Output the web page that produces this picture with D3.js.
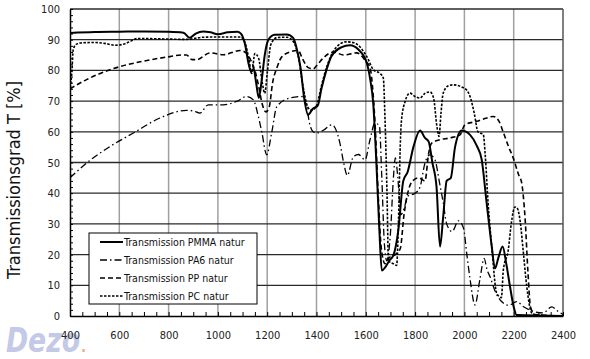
<!DOCTYPE html>
<meta charset="utf-8">
<style>
body { margin: 0; background: #fff; }
text { font-family: "DejaVu Sans Condensed", "DejaVu Sans", sans-serif; }
</style>
<body>
<script src="https://d3js.org/d3.v7.min.js"></script>
<script>

// wavelength [nm], transmission [%]
var pmma = [[400,92.2],[500,92.5],[600,92.6],[700,92.7],[800,92.6],[860,92.3],[885,90.6],[910,92],[940,92.7],[970,92.4],[1000,91.8],[1040,92.4],[1080,92.6],[1095,91.8],[1110,88.5],[1125,82],[1135,79.5],[1145,80.5],[1155,76],[1166,71],[1178,77],[1190,85],[1205,90],[1230,91.6],[1280,91.7],[1306,90.5],[1320,87],[1335,81],[1350,71],[1366,65.5],[1385,67.5],[1405,68.5],[1420,74],[1440,80],[1460,84.5],[1500,87.5],[1536,88.2],[1570,86.8],[1604,82.4],[1618,77],[1630,69.4],[1644,48],[1655,28],[1665,14.8],[1680,16],[1695,18],[1712,19.8],[1732,28],[1752,44],[1770,47],[1793,55],[1820,60.4],[1840,58],[1855,56.8],[1870,50],[1887,42],[1901,22.6],[1914,32.4],[1928,44],[1945,45],[1962,55],[1989,60.4],[2023,59],[2050,55.5],[2070,51],[2090,37],[2111,22.6],[2124,15.5],[2138,19],[2155,22.6],[2170,17],[2185,9.6],[2200,3],[2212,0.3],[2400,0]];

var pa6 = [[400,45],[467,49.8],[562,55.2],[657,59.6],[765,64.5],[873,67],[900,66.8],[927,66.1],[961,68.8],[1022,68.8],[1076,69.9],[1117,71.5],[1144,70.4],[1164,65],[1178,60],[1198,52.5],[1218,59.6],[1239,68.2],[1292,71],[1346,71.5],[1360,68],[1374,62],[1387,60],[1401,59.6],[1428,60.5],[1462,62.3],[1495,56.3],[1510,50],[1525,45.8],[1549,51.8],[1570,52.6],[1597,50.9],[1617,57.4],[1637,62.8],[1655,62],[1665,45],[1675,24],[1685,18],[1700,27],[1712,45],[1720,51.5],[1730,45],[1742,33],[1755,35],[1770,39],[1800,40],[1820,42],[1840,49.8],[1860,52.5],[1880,51],[1900,43],[1914,37],[1928,30],[1950,27.5],[1976,31],[1996,28.7],[2010,20],[2023,12],[2043,3.6],[2063,12],[2080,18.8],[2092,15],[2104,12.8],[2125,8],[2151,4.7],[2180,3.5],[2212,4.7],[2240,3],[2280,1.5],[2320,1],[2354,3],[2380,1.5],[2400,0.5]];

var pp = [[400,74],[467,77],[562,80.2],[697,83],[806,84.5],[850,85],[873,85],[895,83.5],[914,83.5],[968,85.7],[1022,85.1],[1090,86.5],[1117,85.5],[1135,83],[1150,80],[1165,75],[1180,69],[1195,66.5],[1208,68],[1222,76],[1240,81],[1260,84.5],[1300,86.2],[1325,86.5],[1345,83.5],[1365,81],[1386,80.5],[1405,82],[1427,84],[1470,86],[1509,85],[1563,85.7],[1600,83],[1617,81],[1630,72],[1638,62],[1650,40],[1663,22],[1678,17],[1695,19],[1720,20],[1740,22],[1755,33],[1770,40],[1790,44],[1815,45],[1840,44],[1855,53],[1867,56.3],[1900,57.4],[1940,58],[1982,59],[2002,62.3],[2050,63.4],[2090,64.5],[2117,65],[2140,63.5],[2157,60],[2180,55],[2198,51.5],[2220,46],[2232,43.5],[2246,32],[2258,14],[2268,3],[2285,0.5],[2400,0]];

var pc = [[400,73],[408,80],[413,86.7],[425,88.5],[441,88.9],[494,89.1],[540,88.8],[583,88.2],[620,88.6],[643,89.4],[676,90.4],[750,90.3],[806,90.2],[873,90.1],[940,90.8],[1008,90.9],[1091,90.9],[1110,89],[1125,84],[1137,79],[1150,85.5],[1165,84],[1180,76],[1190,72.5],[1200,79],[1215,88.5],[1240,90.7],[1280,90.8],[1305,89.5],[1325,85],[1345,75],[1365,68],[1380,67],[1400,68.5],[1420,75],[1445,82],[1480,87.5],[1520,89.3],[1552,89],[1604,84.5],[1631,80.2],[1658,79],[1671,77.5],[1678,64],[1686,40],[1692,18],[1712,17],[1725,16.5],[1733,32],[1740,56],[1745,64],[1760,70],[1779,72.6],[1800,71.5],[1820,71],[1840,72.5],[1860,73],[1875,71],[1888,62],[1897,58.5],[1905,66],[1914,72.6],[1935,75],[1954,75.3],[1989,74.6],[2010,73.5],[2023,71.5],[2040,66],[2055,60],[2077,59],[2084,53],[2096,37],[2111,22.6],[2131,7.4],[2150,6],[2158,15],[2178,21.5],[2190,30],[2205,35.5],[2215,35],[2226,31],[2240,20],[2253,9.6],[2273,1],[2290,0.3],[2400,0]];

var seriesNames = ["Transmission PMMA natur", "Transmission PA6 natur", "Transmission PP natur", "Transmission PC natur"];
var xTicks = [400, 600, 800, 1000, 1200, 1400, 1600, 1800, 2000, 2200, 2400];
var yTicks = [0, 10, 20, 30, 40, 50, 60, 70, 80, 90, 100];

var styles = [
  {dash: null,          w: 2},
  {dash: "7,3,1.5,3",   w: 1.3},
  {dash: "5,3",         w: 1.6},
  {dash: "2.5,1.5",     w: 1.6}
];

var margin = {top: 9, right: 27, bottom: 43, left: 70},
    width = 590 - margin.left - margin.right,
    height = 359 - margin.top - margin.bottom;

var x = d3.scaleLinear().domain([400, 2400]).range([0, width]);
var y = d3.scaleLinear().domain([0, 100]).range([height, 0]);

var svg = d3.select("body").append("svg")
    .attr("width", 590)
    .attr("height", 359)
  .append("g")
    .attr("transform", "translate(" + margin.left + "," + margin.top + ")");

// watermark (sits under the chart)
var wm = d3.select("svg").insert("g", ":first-child");
wm.append("text")
    .attr("x", 6).attr("y", 352)
    .attr("font-size", 33).attr("font-weight", "bold").attr("font-style", "italic")
    .attr("textLength", 74).attr("lengthAdjust", "spacingAndGlyphs")
    .attr("fill", "#c3c9e6")
    .text("Dezo");
wm.append("text")
    .attr("x", 81).attr("y", 352)
    .attr("font-size", 15).attr("font-weight", "bold")
    .attr("fill", "#f2b08a")
    .text(".");

// vertical grid
svg.append("g")
  .selectAll("line")
  .data(xTicks.slice(1, -1))
  .enter().append("line")
    .attr("x1", d => x(d)).attr("x2", d => x(d))
    .attr("y1", 0).attr("y2", height)
    .attr("stroke", "#a0a0a0").attr("stroke-width", 1.5);

// horizontal grid
svg.append("g")
  .selectAll("line")
  .data(yTicks.slice(1))
  .enter().append("line")
    .attr("x1", 0).attr("x2", width)
    .attr("y1", d => y(d)).attr("y2", d => y(d))
    .attr("stroke", "#2a2a2a").attr("stroke-width", 1.3);

svg.append("line")
    .attr("x1", width).attr("x2", width)
    .attr("y1", 0).attr("y2", height)
    .attr("stroke", "#555").attr("stroke-width", 1.5);

// curves
svg.append("clipPath").attr("id", "clip")
  .append("rect").attr("width", width).attr("height", height);

var line = d3.line()
    .x(d => x(d[0]))
    .y(d => y(d[1]))
    .curve(d3.curveMonotoneX);

[pmma, pa6, pp, pc].forEach(function(data, i) {
  svg.append("path")
      .datum(data)
      .attr("clip-path", "url(#clip)")
      .attr("fill", "none")
      .attr("stroke", "#000")
      .attr("stroke-width", styles[i].w)
      .attr("stroke-dasharray", styles[i].dash)
      .attr("d", line);
});

// axes
var yAxis = svg.append("g")
    .call(d3.axisLeft(y).tickValues(yTicks).tickSize(0).tickPadding(10));
yAxis.select(".domain").attr("stroke", "#000").attr("stroke-width", 1.5);
yAxis.selectAll("text").attr("font-size", 11).attr("fill", "#222");

svg.append("g")
    .call(d3.axisRight(y).tickValues(d3.range(0, 101, 2)).tickSize(3).tickFormat(""))
    .call(g => g.select(".domain").remove());

var xAxis = svg.append("g")
    .attr("transform", "translate(0," + height + ")")
    .call(d3.axisBottom(x).tickValues(xTicks).tickSize(0).tickPadding(15).tickFormat(d3.format("d")));
xAxis.select(".domain").attr("stroke", "#000").attr("stroke-width", 1.5);
xAxis.selectAll("text").attr("font-size", 11).attr("fill", "#222");

svg.append("g")
    .attr("transform", "translate(0," + height + ")")
    .call(d3.axisTop(x).tickValues(d3.range(400, 2401, 50)).tickSize(4).tickFormat(""))
    .call(g => g.select(".domain").remove());

// y title
svg.append("text")
    .attr("transform", "translate(-50," + (180 - margin.top) + ") rotate(-90)")
    .attr("text-anchor", "middle")
    .attr("font-size", 18)
    .attr("fill", "#111")
    .text("Transmissionsgrad T [%]");

// legend
var legend = svg.append("g")
    .attr("transform", "translate(" + (89 - margin.left) + "," + (233 - margin.top) + ")");
legend.append("rect")
    .attr("width", 168).attr("height", 71)
    .attr("fill", "#fff").attr("stroke", "#000").attr("stroke-width", 1);

var items = legend.selectAll(".item")
    .data(seriesNames)
  .enter().append("g")
    .attr("transform", (d, i) => "translate(0," + (9 + i * 18) + ")");
items.append("line")
    .attr("x1", 11).attr("x2", 34)
    .attr("stroke", "#000")
    .attr("stroke-width", (d, i) => styles[i].w)
    .attr("stroke-dasharray", (d, i) => styles[i].dash);
items.append("text")
    .attr("x", 35).attr("dy", "0.35em")
    .attr("font-size", 10.5)
    .attr("fill", "#111")
    .text(d => d);

</script>
</body>
